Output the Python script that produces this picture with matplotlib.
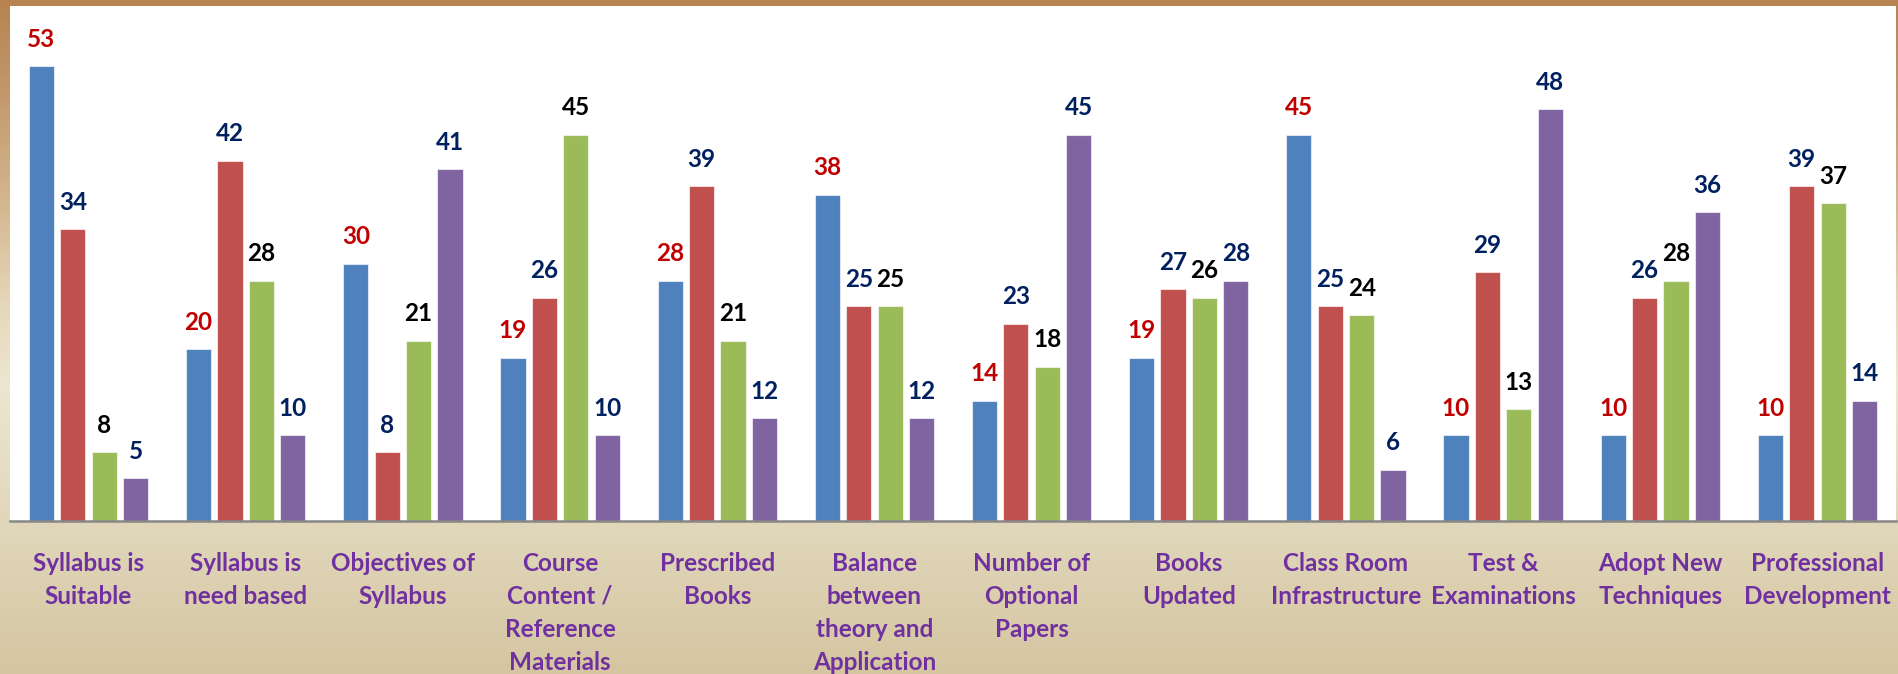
import numpy as np
import matplotlib
matplotlib.use("Agg")
import matplotlib.pyplot as plt
from matplotlib.colors import LinearSegmentedColormap

plt.rcParams['font.family'] = ['Lato', 'DejaVu Sans']

# 数据
categories = ["Syllabus is\nSuitable", "Syllabus is\nneed based", "Objectives of\nSyllabus",
              "Course\nContent /\nReference\nMaterials", "Prescribed\nBooks",
              "Balance\nbetween\ntheory and\nApplication", "Number of\nOptional\nPapers",
              "Books\nUpdated", "Class Room\nInfrastructure", "Test &\nExaminations",
              "Adopt New\nTechniques", "Professional\nDevelopment"]
blue_vals = [53, 20, 30, 19, 28, 38, 14, 19, 45, 10, 10, 10]
red_vals = [34, 42, 8, 26, 39, 25, 23, 27, 25, 29, 26, 39]
green_vals = [8, 28, 21, 45, 21, 25, 18, 26, 24, 13, 28, 37]
purple_vals = [5, 10, 41, 10, 12, 12, 45, 28, 6, 48, 36, 14]

series = [blue_vals, red_vals, green_vals, purple_vals]
bar_colors = ['#4F81BD', '#C0504D', '#9BBB59', '#8064A2']
label_colors = ['#C00000', '#002060', '#000000', '#002060']

W, H = 1899, 674
fig = plt.figure(figsize=(W / 100, H / 100), dpi=100)

# 背景渐变
bg = fig.add_axes([0, 0, 1, 1])
cmap = LinearSegmentedColormap.from_list('bg', [
    (0.0, '#B78351'), (0.15, '#C39B6E'), (0.30, '#D4B68F'),
    (0.45, '#E6D7B9'), (0.57, '#EDE6D0'), (0.75, '#E2D9BE'), (1.0, '#D5C6A1')])
grad = np.linspace(0, 1, 256).reshape(-1, 1)
bg.imshow(grad, aspect='auto', cmap=cmap, extent=[0, 1, 0, 1], origin='upper')
bg.set_axis_off()

left, right = 10 / W, 1896 / W
bottom, top = (H - 521) / H, (H - 6) / H
ax = fig.add_axes([left, bottom, right - left, top - bottom])
ax.set_facecolor('white')

x = np.arange(len(categories))
slot = 0.2
width = 0.16
for i, vals in enumerate(series):
    pos = x + (i - 1.5) * slot
    ax.bar(pos, vals, width=width, color=bar_colors[i],
           edgecolor=(1, 1, 1, 0.6), linewidth=0.8, zorder=2)
    for xp, v in zip(pos, vals):
        ax.annotate(str(v), (xp, v), xytext=(0, 14), textcoords='offset points',
                    ha='center', va='baseline', fontsize=17.5, fontweight='bold',
                    color=label_colors[i])

ax.set_xlim(-0.5, len(categories) - 0.5)
ax.set_ylim(0, 60)
ax.set_yticks([])
ax.set_xticks(x)
ax.set_xticklabels(categories, fontsize=17.5, fontweight='bold', color='#7030A0',
                   linespacing=1.53, va='top')
ax.tick_params(axis='x', length=0, pad=22)
for s in ['top', 'right', 'left']:
    ax.spines[s].set_visible(False)
ax.spines['bottom'].set_color('#878787')
ax.spines['bottom'].set_linewidth(1.8)

fig.savefig('out.png', dpi=100)
